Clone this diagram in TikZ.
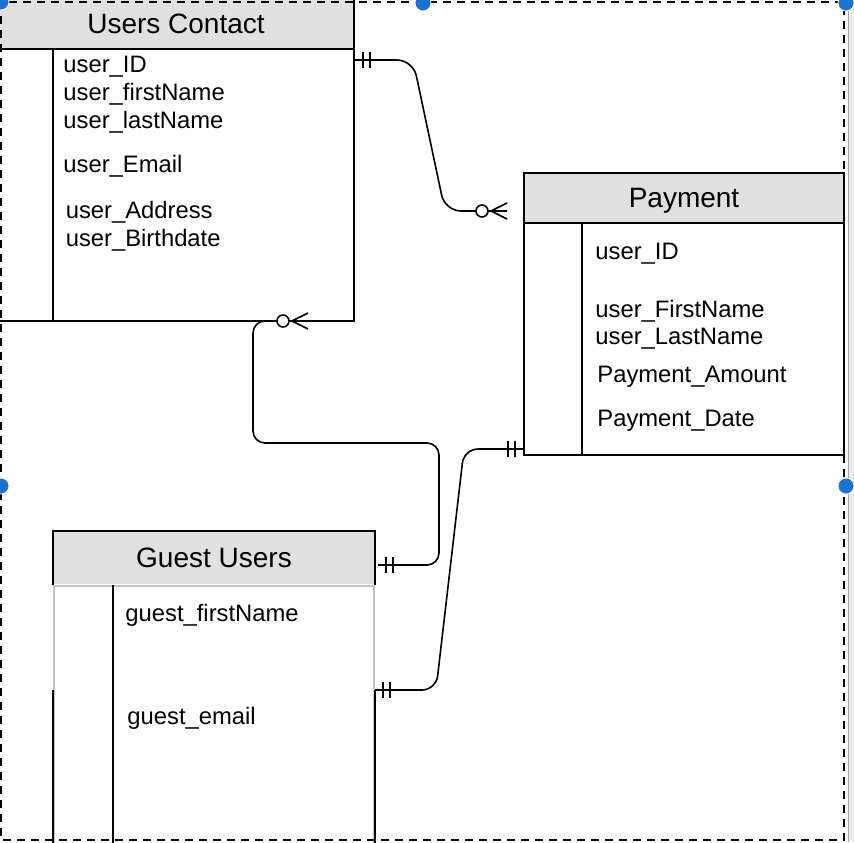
\documentclass[tikz,border=0pt]{standalone}
\usepackage{fontspec}
\setmainfont{Liberation Sans}
\usetikzlibrary{positioning}

\definecolor{headgray}{HTML}{E0E0E0}
\definecolor{edgegray}{HTML}{C4C4C4}
\definecolor{selblue}{HTML}{1A73D0}

\tikzset{
  entity/.style={draw, line width=1pt, fill=white, inner sep=0pt, anchor=north west},
  header/.style={draw, line width=1pt, fill=headgray, inner sep=0pt, anchor=north west, text depth=0pt, font=\fontsize{14pt}{17pt}\selectfont},
  attr/.style={inner sep=0pt, anchor=base west, font=\fontsize{11.9pt}{14pt}\selectfont},
  link/.style={line width=0.8pt},
  onemark/.pic={\draw[link] (8,-8) -- (8,8) (15,-8) -- (15,8);},
  zmanymark/.pic={\draw[link] (0,-8) -- (16,0) -- (0,8); \draw[link, fill=white] (25,0) circle (3pt);},
  handle/.style={circle, fill=selblue, draw=white, line width=0.4pt, minimum size=8pt, inner sep=0pt}
}

\begin{document}
\begin{tikzpicture}[x=0.5pt, y=-0.5pt]
\useasboundingbox (0,0) rectangle (854,842);

% Users Contact table
\node (uc) [entity, minimum width=178pt, minimum height=161pt] at (-3,-2) {};
\node (uchead) [header, minimum width=178pt, minimum height=25pt] at (uc.north west) {Users Contact};
\draw[line width=1pt] ([xshift=28pt]uchead.south west) -- ([xshift=28pt]uc.south west);
\node (ucid) [attr] at (63,72) {user\_ID};
\node (ucfirst) [attr, below=14pt of ucid.base west, anchor=base west] {user\_firstName};
\node (uclast) [attr, below=14pt of ucfirst.base west, anchor=base west] {user\_lastName};
\node (ucemail) [attr, below=22pt of uclast.base west, anchor=base west] {user\_Email};
\node (ucaddr) [attr, below=23pt of ucemail.base west, anchor=base west, xshift=1.2pt] {user\_Address};
\node (ucbirth) [attr, below=14.2pt of ucaddr.base west, anchor=base west] {user\_Birthdate};

% Payment table
\node (pay) [entity, minimum width=160pt, minimum height=141pt] at (523,172) {};
\node (payhead) [header, minimum width=160pt, minimum height=25pt] at (pay.north west) {Payment};
\draw[line width=1pt] ([xshift=29.5pt]payhead.south west) -- ([xshift=29.5pt]pay.south west);
\node (payid) [attr] at (595,259) {user\_ID};
\node (payfirst) [attr, below=29pt of payid.base west, anchor=base west] {user\_FirstName};
\node (paylast) [attr, below=13.9pt of payfirst.base west, anchor=base west] {user\_LastName};
\node (payamount) [attr, below=18.9pt of paylast.base west, anchor=base west, xshift=1pt] {Payment\_Amount};
\node (paydate) [attr, below=22pt of payamount.base west, anchor=base west] {Payment\_Date};

% Guest Users table
\node (gu) [entity, draw=edgegray, minimum width=160pt, minimum height=131pt] at (53,585) {};
\node (guhead) [header, draw=none, minimum width=160pt, minimum height=26pt, anchor=south west] at (gu.north west) {Guest Users};
\draw[line width=1pt] (guhead.south west) -- (guhead.north west) -- (guhead.north east) -- (guhead.south east);
\draw[line width=1pt] ([yshift=-52.5pt]gu.north west) -- (gu.south west)
  (gu.south east) -- ([yshift=-52.5pt]gu.north east);
\draw[line width=1pt] ([xshift=30pt]gu.north west) -- ([xshift=30pt]gu.south west);
\node (gufirst) [attr] at (125,621) {guest\_firstName};
\node (guemail) [attr, below=51.5pt of gufirst.base west, anchor=base west, xshift=1pt] {guest\_email};

% Connector ends
\coordinate (uc-pay) at (355,60);
\coordinate (pay-uc) at (507,211);
\coordinate (uc-gu) at (308,321);
\coordinate (gu-uc) at (378,565);
\coordinate (pay-gu) at (523,449);
\coordinate (gu-pay) at (375,690);

% Relationships
\draw[link, rounded corners=8pt] (uc-pay) -- (413,60) -- (445,211) -- (pay-uc);
\pic at (uc-pay) {onemark};
\pic[xscale=-1] at (pay-uc) {zmanymark};

\draw[link, rounded corners=6pt] (uc-gu) -- (253,321) -- (253,443) -- (439,443) -- (439,565) -- (gu-uc);
\pic[xscale=-1] at (uc-gu) {zmanymark};
\pic at (gu-uc) {onemark};

\draw[link, rounded corners=7pt] (pay-gu) -- (464,449) -- (436,690) -- (gu-pay);
\pic[xscale=-1] at (pay-gu) {onemark};
\pic at (gu-pay) {onemark};

% Selection frame
\fill[gray!15] (848,0) rectangle (854,842);
\draw[gray!70, line width=0.6pt] (848.5,0) -- (848.5,842);
\draw[line width=0.8pt, dash pattern=on 4pt off 3pt] (1,2) rectangle (844,840);
\node (htl) [handle] at (1,2) {};
\node (htm) [handle] at (423,3) {};
\node (htr) [handle] at (846,3) {};
\node (hml) [handle] at (1,486) {};
\node (hmr) [handle] at (846,486) {};

\end{tikzpicture}
\end{document}
